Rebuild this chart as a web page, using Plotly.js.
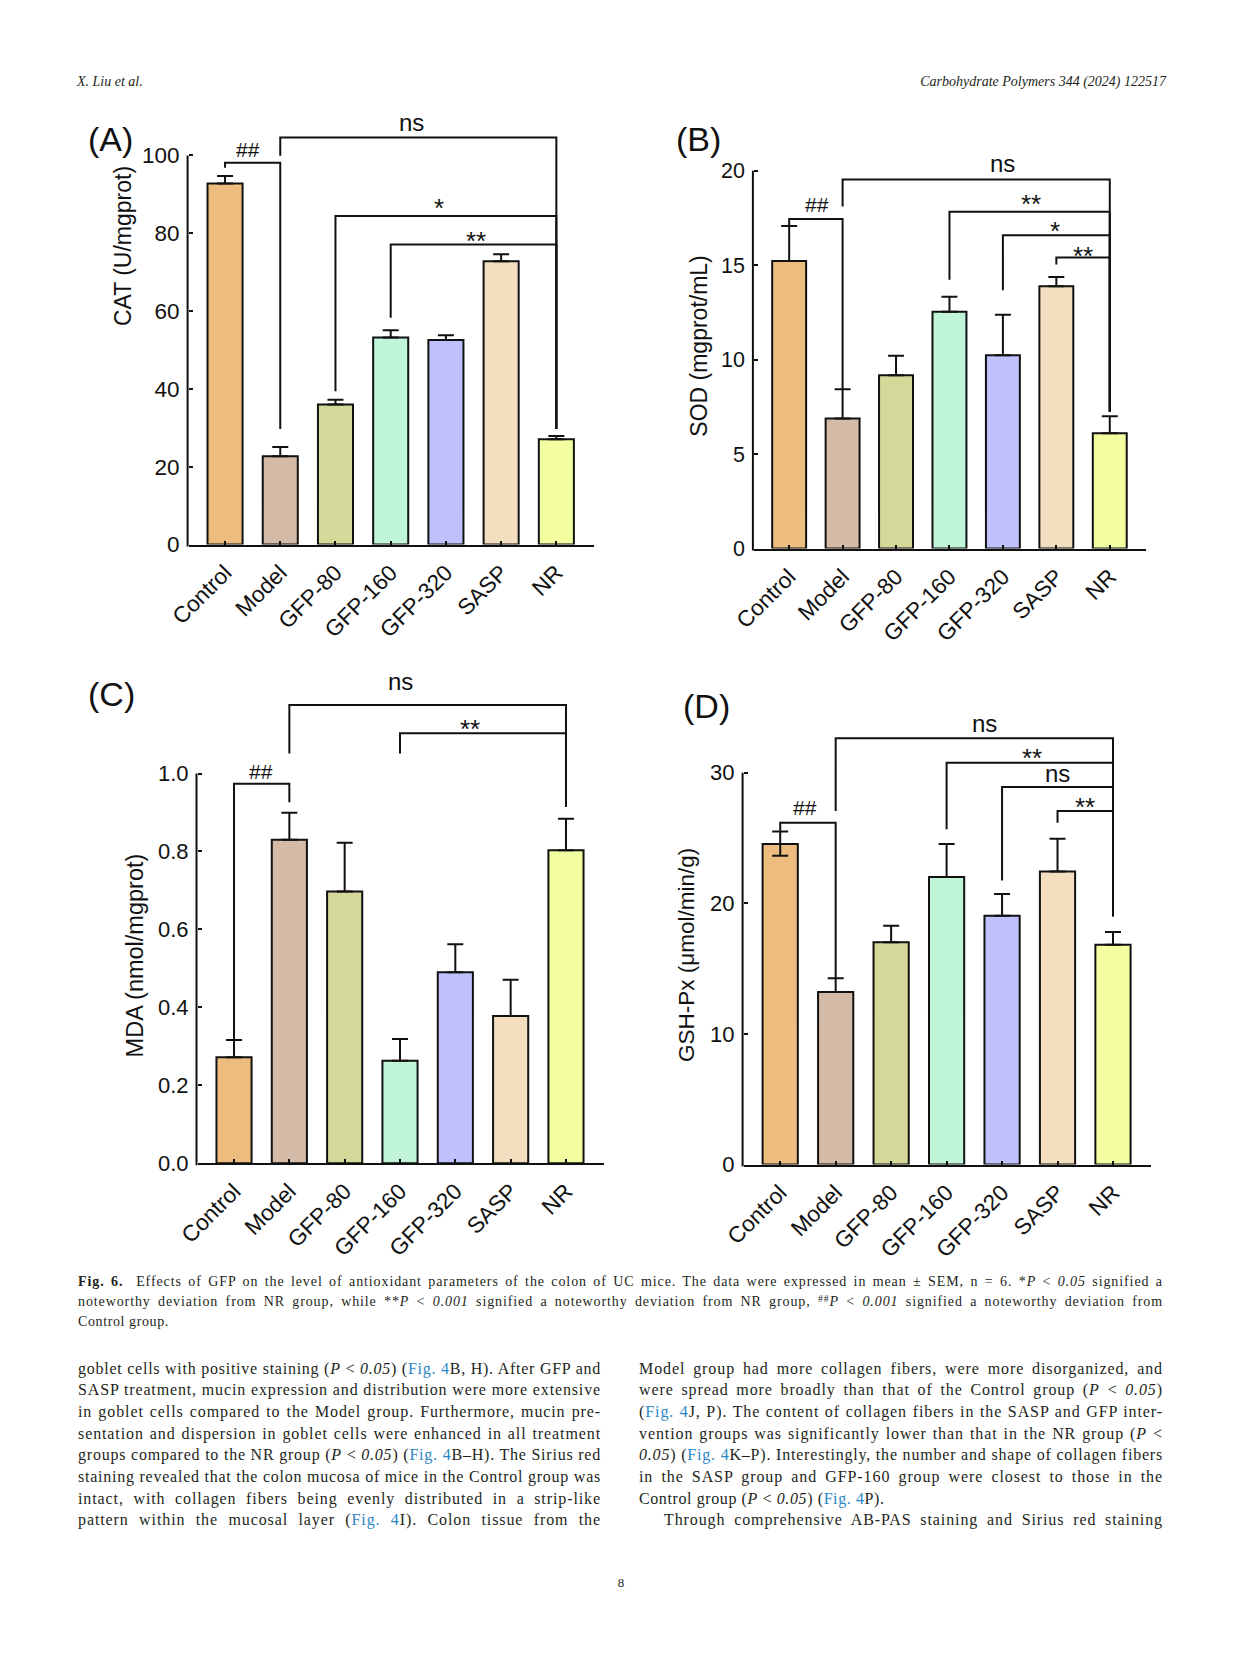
<!DOCTYPE html>
<html>
<head>
<meta charset="utf-8">
<script src="https://cdn.plot.ly/plotly-3.0.1.min.js"></script>
<style>
html,body{margin:0;padding:0;background:#fff;}
#page{position:relative;width:1241px;height:1654px;overflow:hidden;background:#fff;}
#chart{position:absolute;left:0;top:0;width:1241px;height:1654px;}
.txt{position:absolute;font-family:"Liberation Serif","DejaVu Serif",serif;color:#231f20;}
.line{white-space:nowrap;text-align:left;}
.line.j{text-align:justify;text-align-last:justify;}
.lnk{color:#2a86c4;}
i{font-style:italic;}
sup{font-size:0.7em;vertical-align:0.45em;line-height:0;}
</style>
</head>
<body>
<div id="page">
<div id="chart"></div>

<div class="txt" style="left:77px;top:74px;font-size:14px;font-style:italic;">X. Liu et al.</div>
<div class="txt" style="right:75px;top:74px;font-size:14px;font-style:italic;">Carbohydrate Polymers 344 (2024) 122517</div>

<div class="txt" style="left:78px;top:1272px;width:1085px;font-size:14px;line-height:20px;">
<div class="line"><span><b>Fig. 6.</b>&nbsp; Effects of GFP on the level of antioxidant parameters of the colon of UC mice. The data were expressed in mean ± SEM, n = 6. *<i>P</i> &lt; <i>0.05</i> signified a</span></div>
<div class="line"><span>noteworthy deviation from NR group, while **<i>P</i> &lt; <i>0.001</i> signified a noteworthy deviation from NR group, <sup>##</sup><i>P</i> &lt; <i>0.001</i> signified a noteworthy deviation from</span></div>
<div class="line nl"><span>Control group.</span></div>
</div>

<div class="txt" style="left:78px;top:1357.5px;width:523px;font-size:16px;line-height:21.67px;">
<div class="line"><span>goblet cells with positive staining (<i>P</i> &lt; <i>0.05</i>) (<span class="lnk">Fig. 4</span>B, H). After GFP and</span></div>
<div class="line"><span>SASP treatment, mucin expression and distribution were more extensive</span></div>
<div class="line"><span>in goblet cells compared to the Model group. Furthermore, mucin pre-</span></div>
<div class="line"><span>sentation and dispersion in goblet cells were enhanced in all treatment</span></div>
<div class="line"><span>groups compared to the NR group (<i>P</i> &lt; <i>0.05</i>) (<span class="lnk">Fig. 4</span>B–H). The Sirius red</span></div>
<div class="line"><span>staining revealed that the colon mucosa of mice in the Control group was</span></div>
<div class="line"><span>intact, with collagen fibers being evenly distributed in a strip-like</span></div>
<div class="line"><span>pattern within the mucosal layer (<span class="lnk">Fig. 4</span>I). Colon tissue from the</span></div>
</div>

<div class="txt" style="left:639px;top:1357.5px;width:524px;font-size:16px;line-height:21.67px;">
<div class="line"><span>Model group had more collagen fibers, were more disorganized, and</span></div>
<div class="line"><span>were spread more broadly than that of the Control group (<i>P</i> &lt; <i>0.05</i>)</span></div>
<div class="line"><span>(<span class="lnk">Fig. 4</span>J, P). The content of collagen fibers in the SASP and GFP inter-</span></div>
<div class="line"><span>vention groups was significantly lower than that in the NR group (<i>P</i> &lt;</span></div>
<div class="line"><span><i>0.05</i>) (<span class="lnk">Fig. 4</span>K–P). Interestingly, the number and shape of collagen fibers</span></div>
<div class="line"><span>in the SASP group and GFP-160 group were closest to those in the</span></div>
<div class="line nl"><span>Control group (<i>P</i> &lt; <i>0.05</i>) (<span class="lnk">Fig. 4</span>P).</span></div>
<div class="line" style="padding-left:25px;"><span>Through comprehensive AB-PAS staining and Sirius red staining</span></div>
</div>

<div class="txt" style="left:601px;top:1575px;width:40px;text-align:center;font-size:13px;">8</div>
</div>

<script>
// ---------------- data ----------------
const categories = ['Control', 'Model', 'GFP-80', 'GFP-160', 'GFP-320', 'SASP', 'NR'];

const catValues = [92.8, 22.7, 36.0, 53.2, 52.6, 72.8, 27.1];
const catErr    = [1.9, 2.4, 1.2, 1.9, 1.2, 1.8, 0.8];
const catTicks  = [0, 20, 40, 60, 80, 100];

const sodValues = [15.22, 6.88, 9.17, 12.53, 10.23, 13.88, 6.11];
const sodErr    = [1.85, 1.55, 1.04, 0.80, 2.15, 0.49, 0.89];
const sodTicks  = [0, 5, 10, 15, 20];

const mdaValues = [0.272, 0.830, 0.697, 0.263, 0.490, 0.378, 0.803];
const mdaErr    = [0.044, 0.069, 0.125, 0.056, 0.072, 0.093, 0.081];
const mdaTicks  = [0.0, 0.2, 0.4, 0.6, 0.8, 1.0];

const gshValues   = [24.55, 13.20, 17.01, 22.01, 19.04, 22.43, 16.83];
const gshErr      = [0.95, 1.06, 1.27, 2.54, 1.67, 2.51, 0.97];
const gshErrMinus = [0.90, 0, 0, 0, 0, 0, 0];
const gshTicks    = [0, 10, 20, 30];

// significance brackets: [fromGroup, toGroup, level, leftLegEnd, rightLegEnd]
const catBrackets = [[0,1,98.1,96.8,29.7],[1,6,104.6,99.9,29.7],[2,6,84.4,39.4,29.7],[3,6,77.1,58.3,29.7]];
const catMarks    = [['##',0.41,101.4],['ns',3.38,108.0],['*',3.87,87.9],['**',4.55,79.5]];

const sodBrackets = [[0,1,17.45,17.07,8.43],[1,6,19.53,18.11,7.24],[3,6,17.83,14.23,7.24],[4,6,16.58,13.67,7.24],[5,6,15.41,15.03,7.24]];
const sodMarks    = [['##',0.53,18.2],['ns',4.0,20.25],['**',4.52,18.53],['*',4.98,17.13],['**',5.49,15.78]];

const mdaBrackets = [[0,1,0.974,0.315,0.926],[1,6,1.176,1.051,0.914],[3,6,1.103,1.051,0.914]];
const mdaMarks    = [['##',0.49,1.005],['ns',3.01,1.230],['**',4.27,1.129]];

const gshBrackets = [[0,1,26.16,25.55,14.26],[1,6,32.64,27.07,19.01],[3,6,30.76,25.67,19.01],[4,6,28.91,21.74,19.01],[5,6,27.07,26.16,19.01]];
const gshMarks    = [['##',0.44,27.37],['ns',3.68,33.64],['**',4.54,31.61],['ns',5.0,29.76],['**',5.49,27.82]];

// ---------------- styles / layout ----------------
const barColors = ['#EDBD80', '#D4BBA7', '#D4D99A', '#C0F5DA', '#BFC0FC', '#F3DFBF', '#F2FEA0'];
const W = 1241, H = 1654;
const INK = '#111111';
const FONT = 'Liberation Sans, Arial, sans-serif';

const panels = [
  {label:'(A)', title:'CAT (U/mgprot)', vals:catValues, err:catErr, errMinus:null, ticks:catTicks, fmt:'',
   brackets:catBrackets, marks:catMarks, xPx:[188.6,593.9], zeroPx:544.6, topTickPx:155.4, rangeTop:108.6,
   titlePos:[122.5,246.6], labelPos:[110.7,138.6], tickFont:22.5, titleFont:23},
  {label:'(B)', title:'SOD (mgprot/mL)', vals:sodValues, err:sodErr, errMinus:null, ticks:sodTicks, fmt:'',
   brackets:sodBrackets, marks:sodMarks, xPx:[753.9,1146.1], zeroPx:548.6, topTickPx:170.7, rangeTop:20.45,
   titlePos:[699.3,346.4], labelPos:[698.6,138.6], tickFont:21.5, titleFont:23},
  {label:'(C)', title:'MDA (nmol/mgprot)', vals:mdaValues, err:mdaErr, errMinus:null, ticks:mdaTicks, fmt:'.1f',
   brackets:mdaBrackets, marks:mdaMarks, xPx:[197.5,603.6], zeroPx:1163.2, topTickPx:773.5, rangeTop:1.245,
   titlePos:[135,955.4], labelPos:[111.8,693.6], tickFont:22, titleFont:23.5},
  {label:'(D)', title:'GSH-Px (μmol/min/g)', vals:gshValues, err:gshErr, errMinus:gshErrMinus, ticks:gshTicks, fmt:'',
   brackets:gshBrackets, marks:gshMarks, xPx:[743.6,1150.7], zeroPx:1164.5, topTickPx:772.7, rangeTop:33.9,
   titlePos:[686.4,954.6], labelPos:[706,705.5], tickFont:22, titleFont:22.5}
];

const traces = [];
const layout = {
  width: W, height: H,
  margin: {l:0, r:0, t:0, b:0},
  paper_bgcolor: '#ffffff', plot_bgcolor: 'rgba(0,0,0,0)',
  showlegend: false,
  font: {family: FONT, color: INK},
  shapes: [], annotations: []
};

const xIdx = categories.map((c, i) => i);

panels.forEach((p, k) => {
  const sfx = k === 0 ? '' : String(k + 1);
  const xa = 'x' + sfx, ya = 'y' + sfx;
  const topPx = p.zeroPx - p.rangeTop * (p.zeroPx - p.topTickPx) / p.ticks[p.ticks.length - 1];
  const xDom = [p.xPx[0] / W, p.xPx[1] / W];
  const yDom = [1 - p.zeroPx / H, 1 - topPx / H];

  const err = {type:'data', array:p.err, symmetric:false,
               arrayminus: p.errMinus ? p.errMinus : p.err.map(() => 0),
               color: INK, thickness: 2, width: 8};
  traces.push({
    type:'bar', x:xIdx, y:p.vals, xaxis:xa, yaxis:ya, width:0.635,
    marker:{color:barColors, line:{color:INK, width:2}},
    error_y: err, hoverinfo:'skip'
  });

  layout['xaxis' + sfx] = {
    domain: xDom, range: [-0.66, 6.68], anchor: ya, fixedrange: true,
    tickvals: xIdx, ticktext: categories, tickangle: -45,
    tickfont: {size: 22.5, family: FONT, color: INK},
    ticks: 'inside', ticklen: 4, tickwidth: 2, tickcolor: INK,
    showline: true, linewidth: 2, linecolor: INK,
    showgrid: false, zeroline: false, ticklabelstandoff: 4
  };
  layout['yaxis' + sfx] = {
    domain: yDom, range: [0, p.rangeTop], anchor: xa, fixedrange: true,
    tickvals: p.ticks, tickformat: p.fmt,
    tickfont: {size: p.tickFont, family: FONT, color: INK},
    ticks: 'inside', ticklen: 4, tickwidth: 2, tickcolor: INK,
    showline: false, showgrid: false, zeroline: false, ticklabelstandoff: 8
  };

  // y axis line (stops at the top tick)
  layout.shapes.push({type:'line', xref:'paper', yref:'paper',
    x0:(p.xPx[0] - 1) / W, x1:(p.xPx[0] - 1) / W,
    y0:1 - (p.zeroPx + 2) / H, y1:1 - p.topTickPx / H,
    line:{color:INK, width:2}});

  // brackets
  p.brackets.forEach(b => {
    const [a, c, lvl, le, re] = b;
    layout.shapes.push({type:'path', xref:xa, yref:ya,
      path:`M ${a},${le} L ${a},${lvl} L ${c},${lvl} L ${c},${re}`,
      line:{color:INK, width:2}});
  });

  // significance marks
  p.marks.forEach(m => {
    const [txt, mx, my] = m;
    let size = 24, shift = 2;
    if (txt === '##') { size = 21; shift = 0; }
    if (txt.indexOf('*') === 0) { size = 26; shift = -6; }
    layout.annotations.push({xref:xa, yref:ya, x:mx, y:my, text:txt, showarrow:false,
      xanchor:'center', yanchor:'middle', yshift:shift, font:{size:size, family:FONT, color:INK}});
  });

  // axis title
  layout.annotations.push({xref:'paper', yref:'paper', x:p.titlePos[0] / W, y:1 - p.titlePos[1] / H,
    text:p.title, textangle:-90, showarrow:false, xanchor:'center', yanchor:'middle',
    font:{size:p.titleFont, family:FONT, color:INK}});
  // panel label
  layout.annotations.push({xref:'paper', yref:'paper', x:p.labelPos[0] / W, y:1 - p.labelPos[1] / H,
    text:p.label, showarrow:false, xanchor:'center', yanchor:'middle',
    font:{size:34, family:FONT, color:INK}});
});

Plotly.newPlot('chart', traces, layout, {displayModeBar:false, staticPlot:true});

// fit text lines to their column (letter spacing), then justify them
document.querySelectorAll('.line').forEach(el => {
  const span = el.firstElementChild;
  const cs = getComputedStyle(el);
  const avail = el.clientWidth - parseFloat(cs.paddingLeft) - parseFloat(cs.paddingRight);
  const w = span.getBoundingClientRect().width;
  const n = span.textContent.length;
  if (n > 0) {
    let ls = (avail - w) / n;
    if (el.classList.contains('nl')) ls = Math.min(ls, 0.6);
    ls = Math.min(ls, 0.9);
    if (ls < 0) ls -= 0.05;
    el.style.letterSpacing = ls + 'px';
  }
  if (!el.classList.contains('nl')) el.classList.add('j');
});
</script>
</body>
</html>
